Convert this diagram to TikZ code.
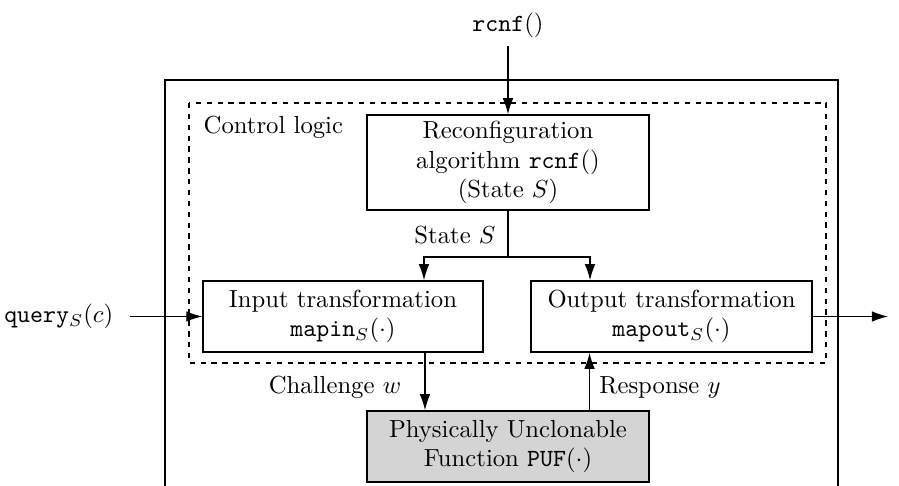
\documentclass[tikz,border=0pt]{standalone}
\usetikzlibrary{arrows.meta,calc}
\begin{document}
\begin{tikzpicture}[x=0.405pt,y=-0.405pt,
  box/.style={draw,line width=0.55pt,align=center,inner sep=0pt},
  arr/.style={line width=0.55pt,-{Latex[length=6.5pt,width=4.3pt]}},
  ln/.style={line width=0.55pt}]
\useasboundingbox (0,0) rectangle (899,486);
\clip (0,0) rectangle (899,486);
% outer and dashed frames
\draw[ln] (165,80) rectangle (838,540);
\draw[ln,dashed,dash pattern=on 2.2pt off 2.2pt] (189,103) rectangle (826,363);
\node[anchor=west] (cl) at (195,127) {Control logic};
% boxes
\node[box,minimum width=114.2pt,minimum height=38.5pt] (rec) at (508,162.5)
  {Reconfiguration\\algorithm \texttt{rcnf}()\\(State $S$)};
\node[box,minimum width=113.4pt,minimum height=28.8pt] (in) at (343,316.5)
  {Input transformation\\\texttt{mapin}$_S(\cdot)$};
\node[box,minimum width=113.8pt,minimum height=28.8pt] (out) at (671.5,316.5)
  {Output transformation\\\texttt{mapout}$_S(\cdot)$};
\node[box,fill=black!17,minimum width=114.2pt,minimum height=28.8pt] (puf) at (508,446.5)
  {Physically Unclonable\\Function \texttt{PUF}$(\cdot)$};
% inputs/outputs
\node (rc) at (508,25) {\texttt{rcnf}()};
\node[anchor=east] (q) at (122,316.5) {\texttt{query}$_S(c)$};
\coordinate (qs) at (130,316.5);
\coordinate (oe) at (888,316.5);
\coordinate (sp) at (508,257);
% connectors
\draw[arr] (rc.south) -- (rec.north);
\draw[ln] (rec.south) -- (sp);
\draw[arr] (sp) -| ([xshift=32.8pt]in.north);
\draw[arr] (sp) -| ([xshift=-33pt]out.north);
\draw[arr] (qs) -- (in.west);
\draw[arr] (out.east) -- (oe);
\draw[arr] ([xshift=33.2pt]in.south) -- ([xshift=33.2pt]in.south |- puf.north);
\draw[arr] ([xshift=-33.2pt]out.south |- puf.north) -- ([xshift=-33.2pt]out.south);
% labels
\node (st) at (455,235) {State $S$};
\node (ch) at (335,387) {Challenge $w$};
\node (rs) at (660,387) {Response $y$};
\end{tikzpicture}
\end{document}
